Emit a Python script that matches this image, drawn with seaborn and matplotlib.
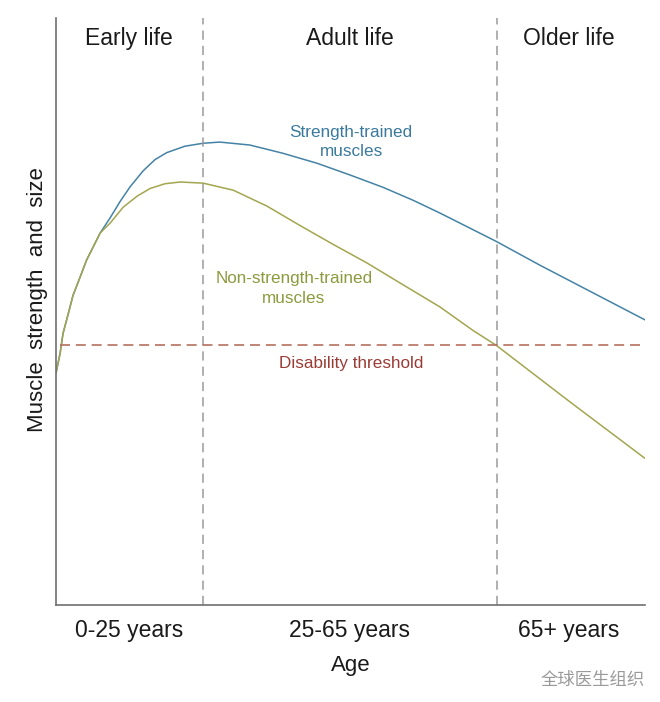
import numpy as np
import pandas as pd
import matplotlib
matplotlib.use('Agg')
import matplotlib.pyplot as plt
import seaborn as sns

# Schematic values (x: 0-100 life span, y: 0-100 strength)
shared_x = [0, 0.7, 1.2, 2.1, 2.9, 4.1, 5.2, 6.3, 7.5]
shared_y = [39.5, 42.9, 46.3, 49.7, 52.8, 55.9, 58.8, 61.0, 63.4]

trained_x = [9.2, 10.9, 12.6, 14.8, 16.8, 18.8, 21.9, 25.0, 27.8, 32.9, 38.5, 44.3,
             49.9, 55.5, 60.6, 65.2, 74.7, 82.2, 100]
trained_y = [66.0, 68.8, 71.3, 74.0, 75.9, 77.1, 78.2, 78.7, 78.9, 78.4, 77.0, 75.3,
             73.3, 71.2, 69.0, 66.8, 62.0, 57.9, 48.6]

untrained_x = [9.2, 11.4, 13.8, 16.0, 18.5, 21.1, 25.0, 30.1, 35.8, 41.4, 47.0, 52.8,
               58.4, 65.2, 70.8, 74.7, 87.3, 100]
untrained_y = [65.1, 67.8, 69.7, 71.0, 71.8, 72.1, 71.9, 70.7, 68.0, 64.7, 61.5, 58.3,
               54.9, 50.8, 46.8, 44.3, 34.6, 25.0]

threshold = 44.3
boundaries = [25, 74.8]
stage_names = ['Early life', 'Adult life', 'Older life']
age_labels = ['0-25 years', '25-65 years', '65+ years']
stage_centers = [12.4, 49.9, 87.1]

df = pd.concat([
    pd.DataFrame({'x': shared_x + trained_x, 'y': shared_y + trained_y,
                  'group': 'Strength-trained'}),
    pd.DataFrame({'x': shared_x + untrained_x, 'y': shared_y + untrained_y,
                  'group': 'Non-strength-trained'}),
])

sns.set_style('white')
plt.rcParams['font.family'] = ['Liberation Sans', 'DejaVu Sans']

fig = plt.figure(figsize=(6.6, 7.02), dpi=100)
ax = fig.add_axes([0.0848, 0.138, 0.8925, 0.836])

palette = {'Strength-trained': '#4583a6', 'Non-strength-trained': '#a3a64e'}
sns.lineplot(data=df, x='x', y='y', hue='group', palette=palette,
             sort=False, estimator=None, lw=1.1, legend=False, ax=ax)

for b in boundaries:
    ax.axvline(b, color='#9a9a9a', lw=1.1, ls=(0, (6, 4)))
ax.hlines(threshold, 0.6, 100, color='#b5705e', lw=1.2, ls=(0, (6, 3.5)))

ax.set_xlim(0, 100)
ax.set_ylim(0, 100)

for name, cx in zip(stage_names, stage_centers):
    ax.text(cx, 96.6, name, ha='center', va='center', fontsize=16.5, color='#1a1a1a')

ax.text(50.1, 78.9, 'Strength-trained\nmuscles', ha='center', va='center',
        fontsize=12.3, color='#3a7a9c', linespacing=1.4)
ax.text(40.4, 54.0, 'Non-strength-trained\nmuscles', ha='center', va='center',
        fontsize=12.3, color='#8d9a3e', linespacing=1.4)
ax.text(50.1, 41.2, 'Disability threshold', ha='center', va='center',
        fontsize=12.3, color='#9a3b35')

ax.set_xticks(stage_centers)
ax.set_xticklabels(age_labels, fontsize=16.5, color='#1a1a1a')
ax.set_yticks([])
ax.tick_params(axis='x', length=0, pad=10)
ax.set_xlabel('Age', fontsize=16, color='#1a1a1a', labelpad=9)
ax.set_ylabel('Muscle  strength  and  size', fontsize=16, color='#1a1a1a')
ax.yaxis.set_label_coords(-0.014, 0.52)

sns.despine(ax=ax)
for side in ['left', 'bottom']:
    ax.spines[side].set_color('#6f6f6f')
    ax.spines[side].set_linewidth(1.2)

# watermark
fig.text(0.977, 0.031, '全球医生组织', ha='right', va='center', fontsize=12.5,
         color='#9a9a9a', family=['Noto Sans CJK SC', 'DejaVu Sans'])

fig.savefig('out.png', dpi=100)
